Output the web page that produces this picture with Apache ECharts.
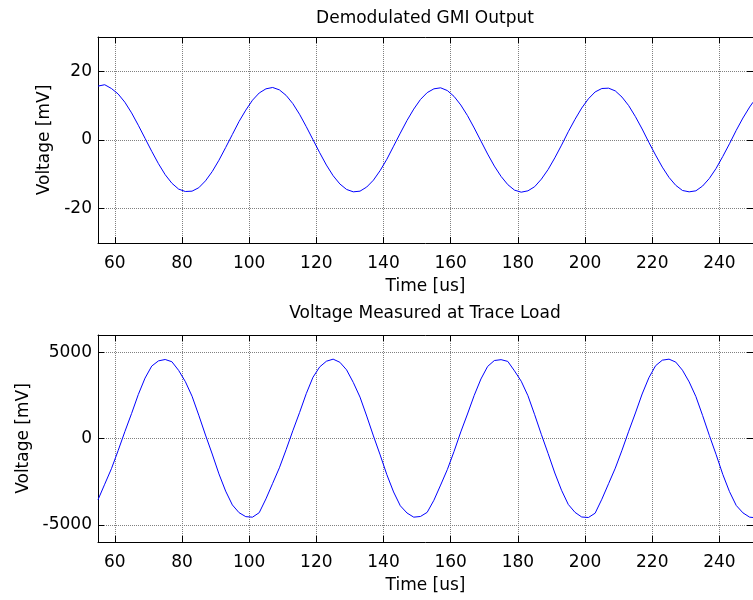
<!DOCTYPE html>
<html><head><meta charset="utf-8">
<script src="https://cdn.jsdelivr.net/npm/echarts@6/dist/echarts.min.js"></script>
<style>html,body{margin:0;padding:0;background:#fff}#c{width:753px;height:600px}</style>
</head><body><div id="c"></div>
<script>
const timeTicks = [60, 80, 100, 120, 140, 160, 180, 200, 220, 240];
const gmiTicks = [-20, 0, 20];
const loadTicks = [-5000, 0, 5000];

const timeUs = [
  55, 57, 59, 61, 63, 65, 67, 69, 71, 73,
  75, 77, 79, 81, 83, 85, 87, 89, 91, 93,
  95, 97, 99, 101, 103, 105, 107, 109, 111, 113,
  115, 117, 119, 121, 123, 125, 127, 129, 131, 133,
  135, 137, 139, 141, 143, 145, 147, 149, 151, 153,
  155, 157, 159, 161, 163, 165, 167, 169, 171, 173,
  175, 177, 179, 181, 183, 185, 187, 189, 191, 193,
  195, 197, 199, 201, 203, 205, 207, 209, 211, 213,
  215, 217, 219, 221, 223, 225, 227, 229, 231, 233,
  235, 237, 239, 241, 243, 245, 247, 249, 250
];

const gmiVoltage = [
  15.7, 16.1, 15.0, 13.4, 11.0, 7.9, 4.3, 0.5, -3.3, -6.9,
  -10.1, -12.6, -14.3, -15.0, -14.9, -13.9, -11.9, -9.2, -5.9, -2.2,
  1.6, 5.4, 8.7, 11.6, 13.7, 14.9, 15.3, 14.6, 13.0, 10.6,
  7.5, 3.9, 0.1, -3.7, -7.3, -10.4, -12.8, -14.4, -15.1, -14.9,
  -13.7, -11.7, -8.9, -5.6, -1.8, 2.0, 5.7, 9.0, 11.8, 13.8,
  14.9, 15.2, 14.4, 12.7, 10.2, 7.1, 3.5, -0.3, -4.1, -7.6,
  -10.6, -13.0, -14.6, -15.2, -14.8, -13.6, -11.4, -8.6, -5.2, -1.5,
  2.4, 6.0, 9.3, 12.0, 14.0, 15.0, 15.1, 14.3, 12.5, 10.0,
  6.8, 3.2, -0.7, -4.4, -7.9, -10.9, -13.2, -14.7, -15.1, -14.8,
  -13.4, -11.2, -8.3, -4.8, -1.1, 2.8, 6.4, 9.6, 11.0
];

const loadVoltage = [
  -3550, -2650, -1750, -700, 400, 1450, 2550, 3500, 4200, 4500,
  4580, 4450, 3950, 3300, 2450, 1350, 200, -900, -2050, -3050,
  -3850, -4300, -4530, -4560, -4300,
  -3500, -2600, -1700, -650, 450, 1500, 2600, 3550, 4150, 4480,
  4600, 4420, 3980, 3250, 2400, 1300, 150, -950, -2100, -3100,
  -3900, -4320, -4560, -4520, -4280,
  -3580, -2700, -1800, -750, 380, 1420, 2500, 3450, 4180, 4520,
  4570, 4470, 3920, 3320, 2480, 1380, 230, -870, -2000, -3000,
  -3820, -4280, -4550, -4580, -4330,
  -3520, -2620, -1720, -680, 420, 1480, 2580, 3520, 4220, 4540,
  4600, 4430, 3960, 3280, 2430, 1330, 180, -920, -2080, -3080,
  -3880, -4310, -4560, -4580
];

const FONT = 'DejaVu Sans';
const FS = 17;
const gridColor = '#808080';
const plain = v => String(v);

function xAxes(gridIndex) {
  return [
    {
      type: 'value', gridIndex, min: 55, max: 250, position: 'bottom',
      name: 'Time [us]', nameLocation: 'middle', nameGap: 35,
      nameTextStyle: { fontFamily: FONT, fontSize: FS, color: '#000' },
      axisLine: { show: true, onZero: false, lineStyle: { color: '#000', width: 1 } },
      axisTick: { show: true, inside: true, length: 6, customValues: timeTicks, lineStyle: { color: '#000' } },
      axisLabel: { show: true, margin: 12, customValues: timeTicks, formatter: plain, fontFamily: FONT, fontSize: FS, color: '#000' },
      splitLine: { show: true, lineStyle: { color: gridColor, type: [1, 1], width: 1 } }
    },
    {
      type: 'value', gridIndex, min: 55, max: 250, position: 'top',
      axisLine: { show: true, onZero: false, lineStyle: { color: '#000', width: 1 } },
      axisTick: { show: true, inside: true, length: 6, customValues: timeTicks, lineStyle: { color: '#000' } },
      axisLabel: { show: false },
      splitLine: { show: false }
    }
  ];
}

function yAxes(gridIndex, min, max, ticks, nameGap) {
  return [
    {
      type: 'value', gridIndex, min, max, position: 'left',
      name: 'Voltage [mV]', nameLocation: 'middle', nameGap,
      nameTextStyle: { fontFamily: FONT, fontSize: FS, color: '#000' },
      axisLine: { show: true, onZero: false, lineStyle: { color: '#000', width: 1 } },
      axisTick: { show: true, inside: true, length: 6, customValues: ticks, lineStyle: { color: '#000' } },
      axisLabel: { show: true, margin: 6, customValues: ticks, formatter: plain, fontFamily: FONT, fontSize: FS, color: '#000' },
      splitLine: { show: true, lineStyle: { color: gridColor, type: [1, 1], width: 1 } }
    },
    {
      type: 'value', gridIndex, min, max, position: 'right',
      axisLine: { show: false },
      axisTick: { show: true, inside: true, length: 6, customValues: ticks, lineStyle: { color: '#000' } },
      axisLabel: { show: false },
      splitLine: { show: false }
    }
  ];
}

const chart = echarts.init(document.getElementById('c'), null, { renderer: 'canvas' });
chart.setOption({
  animation: false,
  backgroundColor: '#fff',
  graphic: [
    { type: 'text', x: 425, y: 19, style: { text: 'Demodulated GMI Output', textAlign: 'center', textVerticalAlign: 'middle', font: FS + 'px "' + FONT + '"', fill: '#000' } },
    { type: 'text', x: 425, y: 314, style: { text: 'Voltage Measured at Trace Load', textAlign: 'center', textVerticalAlign: 'middle', font: FS + 'px "' + FONT + '"', fill: '#000' } }
  ],
  grid: [
    { left: 98, right: 0, top: 37, height: 206 },
    { left: 98, right: 0, top: 335, height: 207 }
  ],
  xAxis: [...xAxes(0), ...xAxes(1)],
  yAxis: [...yAxes(0, -30, 30, gmiTicks, 45), ...yAxes(1, -6000, 6000, loadTicks, 66)],
  series: [
    {
      type: 'line', xAxisIndex: 0, yAxisIndex: 0, showSymbol: false, symbol: 'none',
      data: timeUs.map((t, i) => [t, gmiVoltage[i]]),
      lineStyle: { color: '#0000ff', width: 1 }
    },
    {
      type: 'line', xAxisIndex: 2, yAxisIndex: 2, showSymbol: false, symbol: 'none',
      data: timeUs.map((t, i) => [t, loadVoltage[i]]),
      lineStyle: { color: '#0000ff', width: 1 }
    }
  ]
});
</script>
</body></html>
